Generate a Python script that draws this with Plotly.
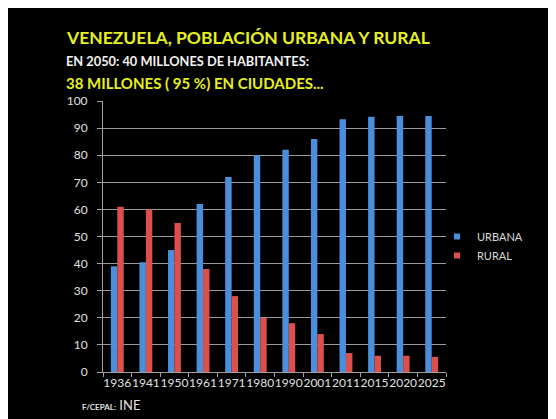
import plotly.graph_objects as go

years = ["1936", "1941", "1950", "1961", "1971", "1980", "1990", "2001", "2011", "2015", "2020", "2025"]
urbana = [39, 40.5, 45, 62, 72, 80, 82, 86, 93.3, 94.2, 94.5, 94.5]
rural = [61, 60, 55, 38, 28, 20, 18, 14, 7, 6, 6, 5.6]

BLUE = "#4a8fdb"
RED = "#dc4f4b"
FONT = "Lato"
OFF = 8  # page body margin

W, H = 556, 419
# plot area in screen coordinates
SL, SR, ST, SB = 103, 446, 101, 372
L = SL - OFF
T = ST - OFF
R = W - (SR - OFF)
B = H - (SB - OFF)
pw, ph = W - L - R, H - T - B

def px(x):
    return (x - OFF - L) / pw

def py(y):
    return (H - B - (y - OFF)) / ph

fig = go.Figure()
fig.add_trace(go.Bar(x=years, y=urbana, name="URBANA", showlegend=False,
                     marker=dict(color=BLUE, line=dict(width=0))))
fig.add_trace(go.Bar(x=years, y=rural, name="RURAL", showlegend=False,
                     marker=dict(color=RED, line=dict(width=0))))
# legend entries with small square swatches
fig.add_trace(go.Scatter(x=[None], y=[None], mode="markers", name="URBANA",
                         marker=dict(symbol="square", size=6, color=BLUE)))
fig.add_trace(go.Scatter(x=[None], y=[None], mode="markers", name="RURAL",
                         marker=dict(symbol="square", size=6, color=RED)))

fig.update_layout(
    width=W, height=H,
    margin=dict(l=L, r=R, t=T, b=B, pad=0),
    paper_bgcolor="black",
    plot_bgcolor="black",
    barmode="group",
    bargap=0.55,
    bargroupgap=0,
    font=dict(family=FONT, color="#d9d9d9"),
    showlegend=True,
    legend=dict(
        x=px(437), y=py(246), xanchor="left", yanchor="middle",
        bgcolor="rgba(0,0,0,0)",
        font=dict(size=11, color="#d9d9d9", family=FONT),
        itemwidth=30, tracegroupgap=0,
    ),
    xaxis=dict(
        showgrid=False,
        showline=True, linecolor="#a0a0a0", linewidth=1,
        ticks="outside", tickson="boundaries", ticklen=4, tickcolor="#a0a0a0",
        tickfont=dict(size=12, color="#e0e0e0", family=FONT),
        tickangle=0,
    ),
    yaxis=dict(
        range=[0, 100], dtick=10,
        showgrid=True, gridcolor="#9a9a9a", gridwidth=1,
        showline=True, linecolor="#a0a0a0", linewidth=1,
        ticks="outside", ticklen=5, tickcolor="#a0a0a0",
        ticklabelstandoff=7,
        tickfont=dict(size=12, color="#e0e0e0", family=FONT),
        zeroline=False,
    ),
    annotations=[
        dict(text="<b>VENEZUELA, POBLACIÓN URBANA Y RURAL</b>", xref="paper", yref="paper",
             x=px(64), y=py(37), xanchor="left", yanchor="middle", showarrow=False,
             font=dict(size=17.5, color="#e6f01e", family=FONT)),
        dict(text="<b>EN 2050: 40 MILLONES DE HABITANTES:</b>", xref="paper", yref="paper",
             x=px(64), y=py(61), xanchor="left", yanchor="middle", showarrow=False,
             font=dict(size=12.8, color="#f2f2f2", family=FONT)),
        dict(text="<b>38 MILLONES ( 95 %) EN CIUDADES...</b>", xref="paper", yref="paper",
             x=px(64), y=py(83), xanchor="left", yanchor="middle", showarrow=False,
             font=dict(size=15, color="#e6f01e", family=FONT)),
        dict(text="<span style='font-size:8px'><b>F/CEPAL:</b></span> INE", xref="paper", yref="paper",
             x=px(80), y=py(405), xanchor="left", yanchor="middle", showarrow=False,
             font=dict(size=13, color="#e0e0e0", family=FONT)),
    ],
)

fig.write_html("out.html")
